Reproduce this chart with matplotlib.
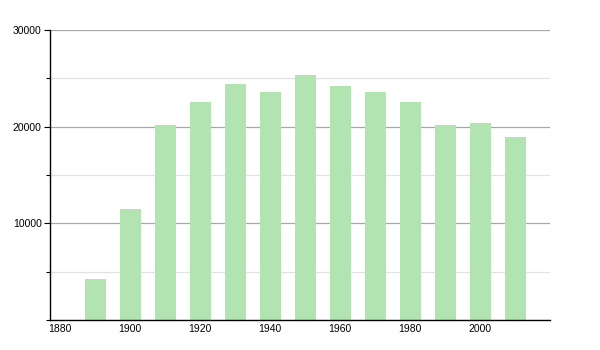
import matplotlib
matplotlib.use("Agg")
import matplotlib.pyplot as plt
from matplotlib.ticker import MultipleLocator

years = [1890, 1900, 1910, 1920, 1930, 1940, 1950, 1960, 1970, 1980, 1990, 2000, 2010]
population = [4200, 11500, 20150, 22600, 24400, 23550, 25300, 24200, 23550, 22600, 20200, 20400, 18900]
x_ticks = [1880, 1900, 1920, 1940, 1960, 1980, 2000]
y_ticks = [10000, 20000, 30000]

plt.rcParams["font.family"] = ["Liberation Sans", "DejaVu Sans"]

fig = plt.figure(figsize=(6, 3.5), dpi=100)
ax = fig.add_axes([50 / 600, 30 / 350, 500 / 600, 290 / 350])

ax.bar(years, population, width=6, color="#b1e4b1", zorder=2)

ax.set_xlim(1877.1, 2020)
ax.set_ylim(0, 30000)
ax.set_xticks(x_ticks)
ax.set_yticks(y_ticks)
ax.yaxis.set_minor_locator(MultipleLocator(5000))

ax.grid(axis="y", which="major", color="#a8a8a8", linewidth=0.9, zorder=0)
ax.grid(axis="y", which="minor", color="#e2e2e2", linewidth=0.9, zorder=0)

for s in ["top", "right"]:
    ax.spines[s].set_visible(False)
ax.spines["left"].set_linewidth(1.0)
ax.spines["bottom"].set_linewidth(1.0)

ax.tick_params(axis="x", length=0, pad=3, labelsize=7.5)
ax.tick_params(axis="y", which="major", length=4, width=0.8, pad=2, labelsize=7.5)
ax.tick_params(axis="y", which="minor", length=3, width=0.8)

fig.savefig("out.png", dpi=100)
